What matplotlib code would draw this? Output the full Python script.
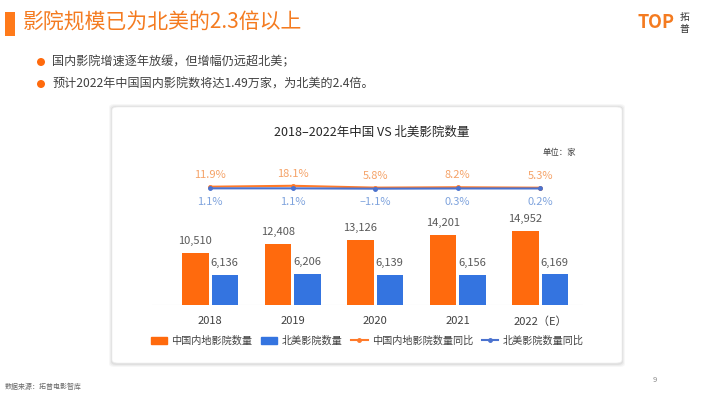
import matplotlib.pyplot as plt
from matplotlib.patches import FancyBboxPatch, Rectangle, Ellipse
from matplotlib.lines import Line2D

plt.rcParams['font.family'] = ['Noto Sans CJK SC', 'DejaVu Sans']

years = ["2018", "2019", "2020", "2021", "2022（E）"]
china_counts = [10510, 12408, 13126, 14201, 14952]
na_counts = [6136, 6206, 6139, 6156, 6169]
china_yoy = [11.9, 18.1, 5.8, 8.2, 5.3]
na_yoy = [1.1, 1.1, -1.1, 0.3, 0.2]

ORANGE = "#FF6A0D"
BLUE = "#3474E0"
ORANGE_TXT = "#F5A267"
BLUE_TXT = "#7FA3DD"
GRAY = "#595959"

W, H = 710, 399
fig = plt.figure(figsize=(W / 100, H / 100), dpi=100)
fig.patch.set_facecolor("white")


def px_ax(x0, y0, x1, y1):
    # pixel box (top-left origin) -> axes
    return fig.add_axes([x0 / W, 1 - y1 / H, (x1 - x0) / W, (y1 - y0) / H])


def ftext(x, y, s, **kw):
    fig.text(x / W, 1 - y / H, s, **kw)


# slide header
fig.patches.append(Rectangle((5 / W, 1 - 36 / H), 10 / W, 24 / H,
                             transform=fig.transFigure, color="#FF7A1A", lw=0))
ftext(23, 23, "影院规模已为北美的2.3倍以上", fontsize=15, color="#F47B20", va="center")
ftext(52, 62, "国内影院增速逐年放缓，但增幅仍远超北美；", fontsize=8.7, color="#404040", va="center")
ftext(52, 84, "预计2022年中国国内影院数将达1.49万家，为北美的2.4倍。", fontsize=8.7, color="#404040", va="center")
for yy in (62, 84):
    fig.patches.append(Ellipse((41 / W, 1 - yy / H), 8 / W, 8 / H, transform=fig.transFigure,
                               color="#FF6A0D", lw=0))

# logo
ftext(638, 23, "T", fontsize=13, color="#F47B20", fontweight="bold", va="center")
ftext(648, 23, "O", fontsize=13, color="#F47B20", fontweight="bold", va="center")
ftext(661, 23, "P", fontsize=13, color="#F47B20", fontweight="bold", va="center")
ftext(680, 17, "拓", fontsize=7, color="#333333", va="center")
ftext(680, 29, "普", fontsize=7, color="#333333", va="center")

# footer
ftext(5, 387, "数据来源：拓普电影智库", fontsize=5, color="#666666", va="center")
ftext(653, 380, "9", fontsize=5.5, color="#888888", va="center")

# card with soft shadow (behind the axes)
for i, a in enumerate([0.03, 0.04, 0.05]):
    d = 3 - i
    fig.patches.append(FancyBboxPatch(((112 - d) / W, 1 - (364 + d) / H), (510 + 2 * d) / W,
                                      (257 + 2 * d) / H, boxstyle="round,pad=0,rounding_size=0.008",
                                      transform=fig.transFigure, fc="black", alpha=a, lw=0,
                                      zorder=-10))
fig.patches.append(FancyBboxPatch((112 / W, 1 - 363 / H), 510 / W, 256 / H,
                                  boxstyle="round,pad=0,rounding_size=0.008",
                                  transform=fig.transFigure, fc="white", ec="#EEEEEE", lw=0.5,
                                  zorder=-9))

ftext(372, 132, "2018–2022年中国 VS 北美影院数量", fontsize=9, color="#262626",
      ha="center", va="center")
ftext(576, 152, "单位：家", fontsize=6, color="#404040", ha="right", va="center")

# bars
spacing = 82.5
x_first = 210
ax = px_ax(152, 140, 583, 305)
ax.set_xlim((152 - x_first) / spacing, (583 - x_first) / spacing)
scale = 52 / 10510
ax.set_ylim(0, 165 / scale)
xs = list(range(len(years)))
bw = 26.5 / spacing
gap = 1.5 / spacing
b1 = ax.bar([x - bw / 2 - gap for x in xs], china_counts, width=bw, color=ORANGE, zorder=3)
b2 = ax.bar([x + bw / 2 + gap for x in xs], na_counts, width=bw, color=BLUE, zorder=3)
for bars, vals in ((b1, china_counts), (b2, na_counts)):
    for r, v in zip(bars, vals):
        ax.annotate(f"{v:,}", (r.get_x() + r.get_width() / 2, v), xytext=(0, 5),
                    textcoords="offset points", ha="center", va="bottom",
                    fontsize=8, color=GRAY)
for s in ax.spines.values():
    s.set_visible(False)
ax.axhline(0, color="#E6E6E6", lw=0.8, zorder=2)
ax.set_yticks([])
ax.set_xticks(xs)
ax.set_xticklabels(years, fontsize=8, color="#404040")
ax.tick_params(axis="x", length=0, pad=8)
ax.patch.set_alpha(0)

# yoy lines
ax2 = ax.twinx()
zero_frac = (305 - 188.5) / 165
rng = 165 / 0.15
ax2.set_ylim(-zero_frac * rng, (1 - zero_frac) * rng)
ax2.plot(xs, china_yoy, color="#FF7A2A", lw=1.5, marker="o", ms=2.5, zorder=4)
ax2.plot(xs, na_yoy, color="#4A72CF", lw=1.5, marker="o", ms=2.5, zorder=5)
for x, v in zip(xs, china_yoy):
    ax2.annotate(f"{v}%", (x, v), xytext=(0, 5), textcoords="offset points",
                 ha="center", va="bottom", fontsize=8, color=ORANGE_TXT)
for x, v in zip(xs, na_yoy):
    ax2.annotate(f"{v}%".replace("-", "–"), (x, v), xytext=(0, -6), textcoords="offset points",
                 ha="center", va="top", fontsize=8, color=BLUE_TXT)
ax2.set_yticks([])
for s in ax2.spines.values():
    s.set_visible(False)

# legend
handles = [
    Rectangle((0, 0), 1, 1, color=ORANGE),
    Rectangle((0, 0), 1, 1, color=BLUE),
    Line2D([], [], color="#FF7A2A", lw=1.5, marker="o", ms=2.5),
    Line2D([], [], color="#4A72CF", lw=1.5, marker="o", ms=2.5),
]
labels = ["中国内地影院数量", "北美影院数量", "中国内地影院数量同比", "北美影院数量同比"]
fig.legend(handles, labels, loc="center", bbox_to_anchor=(367 / W, 1 - 341 / H), ncol=4,
           frameon=False, fontsize=7.3, handlelength=1.6, handleheight=0.8,
           columnspacing=0.9, handletextpad=0.4, labelcolor="#404040")

fig.savefig("out.png", dpi=100)
